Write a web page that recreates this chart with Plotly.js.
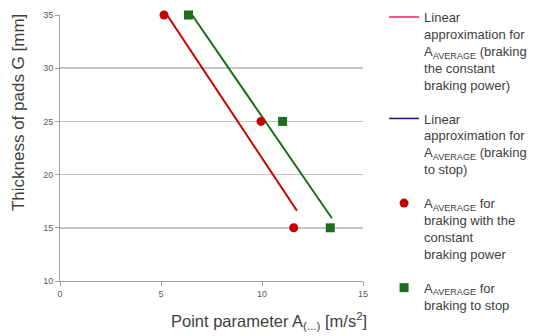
<!DOCTYPE html>
<html>
<head>
<meta charset="utf-8">
<script src="https://cdn.plot.ly/plotly-3.0.1.min.js"></script>
<style>html,body{margin:0;padding:0;background:#fff;}#chart{width:544px;height:336px;}</style>
</head>
<body>
<div id="chart"></div>
<script>
// Data
const thickness = [35, 25, 15];
const aConstPower = [5.15, 9.95, 11.57];
const aToStop = [6.36, 11.02, 13.38];
const trendConstX = [5.3, 11.73];
const trendConstY = [35, 16.6];
const trendStopX = [6.54, 13.46];
const trendStopY = [35, 15.9];
const xTicks = [0, 5, 10, 15];
const yTicks = [10, 15, 20, 25, 30, 35];

const legendNames = [
  'Linear<br>approximation for<br>A<sub>AVERAGE</sub> (braking<br>the constant<br>braking power)',
  'Linear<br>approximation for<br>A<sub>AVERAGE</sub> (braking<br>to stop)',
  'A<sub>AVERAGE</sub> for<br>braking with the<br>constant<br>braking power',
  'A<sub>AVERAGE</sub> for<br>braking to stop'
];

const red = '#c80000';
const green = '#1b6e1b';

const traces = [
  {x: [null], y: [null], type: 'scatter', mode: 'lines', name: legendNames[0], legendgroup: 'a',
   line: {color: '#e8245a', width: 1.5}},
  {x: [null], y: [null], type: 'scatter', mode: 'lines', name: legendNames[1], legendgroup: 'b',
   line: {color: '#14148c', width: 1.5}},
  {x: trendConstX, y: trendConstY, type: 'scatter', mode: 'lines', showlegend: false,
   line: {color: red, width: 2}, cliponaxis: false},
  {x: trendStopX, y: trendStopY, type: 'scatter', mode: 'lines', showlegend: false,
   line: {color: green, width: 2}, cliponaxis: false},
  {x: aConstPower, y: thickness, type: 'scatter', mode: 'markers', name: legendNames[2], legendgroup: 'c',
   marker: {color: red, size: 9, symbol: 'circle'}, cliponaxis: false},
  {x: aToStop, y: thickness, type: 'scatter', mode: 'markers', name: legendNames[3], legendgroup: 'd',
   marker: {color: green, size: 9, symbol: 'square'}, cliponaxis: false}
];

const layout = {
  width: 544, height: 336,
  margin: {l: 60, r: 181, t: 15, b: 55},
  paper_bgcolor: '#fff', plot_bgcolor: '#fff',
  font: {family: 'Liberation Sans, Arial, sans-serif', color: '#404040'},
  showlegend: true,
  legend: {
    xref: 'container', yref: 'container', x: 0.706, y: 0.994, xanchor: 'left', yanchor: 'top',
    font: {size: 13, color: '#404040'}, tracegroupgap: 14,
    valign: 'top', maxheight: 1, bgcolor: 'rgba(0,0,0,0)'
  },
  xaxis: {
    range: [0, 15], tickvals: xTicks, ticktext: xTicks.map(String),
    showgrid: false, zeroline: false, showline: true, linecolor: '#a0a0a0', linewidth: 1,
    ticks: 'outside', ticklen: 4, tickcolor: '#a0a0a0',
    tickfont: {size: 9, color: '#595959'}
  },
  yaxis: {
    range: [10, 35], tickvals: yTicks, ticktext: yTicks.map(String),
    showgrid: true, gridcolor: '#c4c4c4', gridwidth: 1.5, zeroline: false,
    showline: true, linecolor: '#a0a0a0', linewidth: 1,
    ticks: 'outside', ticklen: 4, tickcolor: '#a0a0a0',
    tickfont: {size: 9, color: '#595959'}
  },
  annotations: [
    {text: 'Thickness of pads G [mm]', xref: 'paper', yref: 'paper', x: -0.137, y: 0.633,
     xanchor: 'center', yanchor: 'middle', textangle: -90, showarrow: false,
     font: {size: 17, color: '#404040'}},
    {text: 'Point parameter A<sub>(...)</sub> [m/s<sup>2</sup>]', xref: 'paper', yref: 'paper',
     x: 0.69, y: -0.152, xanchor: 'center', yanchor: 'middle', showarrow: false,
     font: {size: 16.5, color: '#404040'}}
  ]
};

Plotly.newPlot('chart', traces, layout, {displayModeBar: false, staticPlot: true});
</script>
</body>
</html>
